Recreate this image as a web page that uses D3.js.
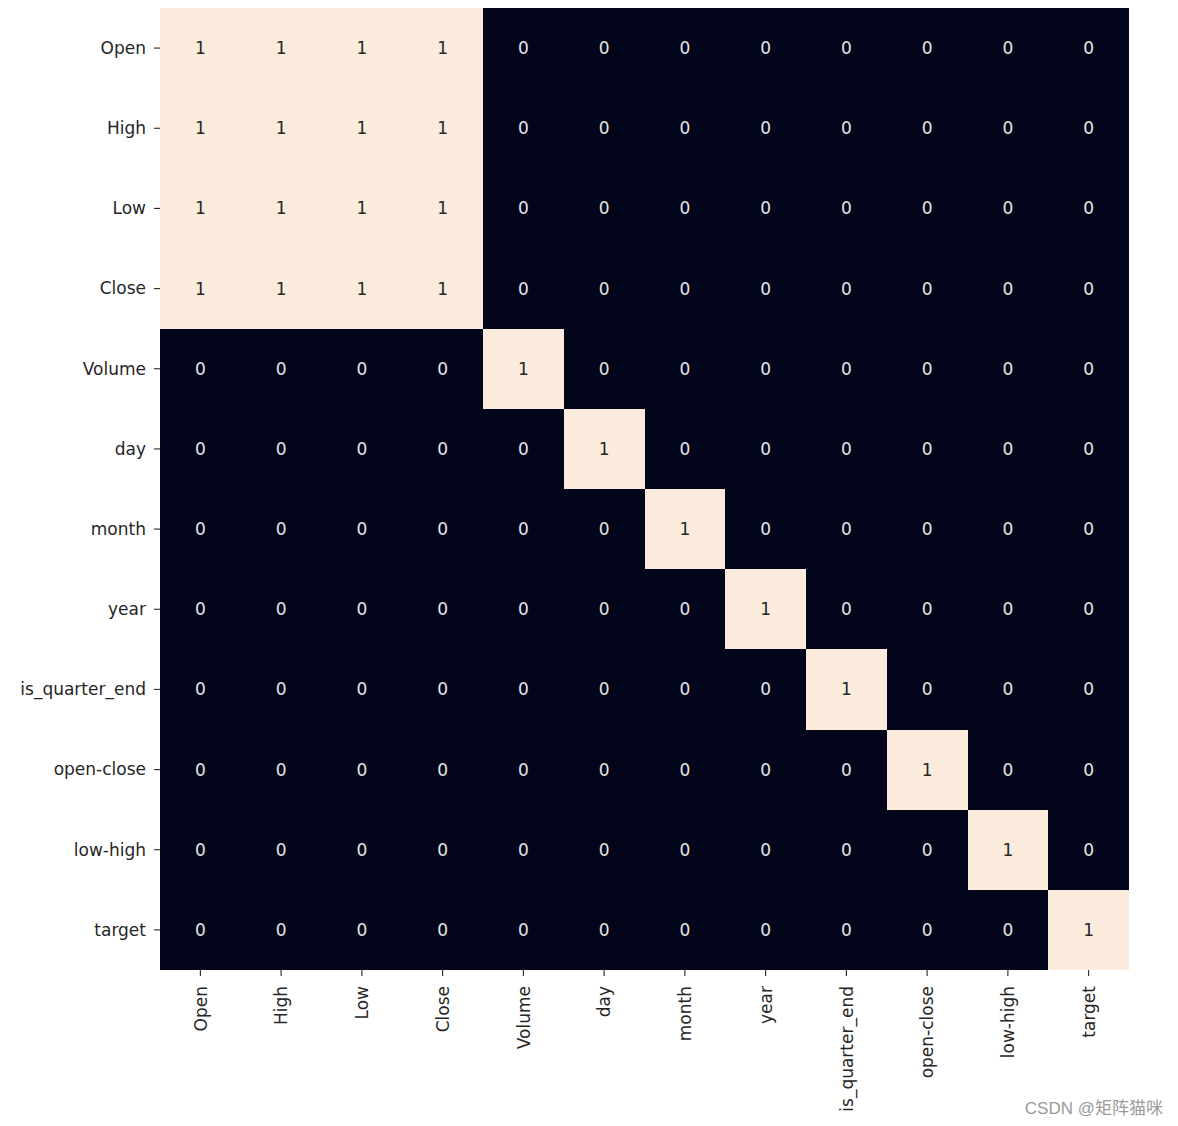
<!DOCTYPE html>
<html><head><meta charset="utf-8">
<script src="https://cdn.jsdelivr.net/npm/d3@7"></script>
<style>body{margin:0;background:#fff;} svg{display:block;}</style>
</head><body>
<script>
const labels = ["Open","High","Low","Close","Volume","day","month","year","is_quarter_end","open-close","low-high","target"];
const matrix = [
 [1,1,1,1,0,0,0,0,0,0,0,0],
 [1,1,1,1,0,0,0,0,0,0,0,0],
 [1,1,1,1,0,0,0,0,0,0,0,0],
 [1,1,1,1,0,0,0,0,0,0,0,0],
 [0,0,0,0,1,0,0,0,0,0,0,0],
 [0,0,0,0,0,1,0,0,0,0,0,0],
 [0,0,0,0,0,0,1,0,0,0,0,0],
 [0,0,0,0,0,0,0,1,0,0,0,0],
 [0,0,0,0,0,0,0,0,1,0,0,0],
 [0,0,0,0,0,0,0,0,0,1,0,0],
 [0,0,0,0,0,0,0,0,0,0,1,0],
 [0,0,0,0,0,0,0,0,0,0,0,1]
];
(function(){
const W=1178,H=1126;
const mL=160,mR=1129,mT=8,mB=970;
const fs=17;
const fontF="DejaVu Sans";
const svg=d3.select("body").append("svg").attr("width",W).attr("height",H);
const x=d3.scaleBand().domain(labels).range([mL,mR]);
const y=d3.scaleBand().domain(labels).range([mT,mB]);
const color=d3.scaleLinear().domain([0,1]).range(["#03051a","#faebdd"]);
const cells=[];
matrix.forEach((row,i)=>row.forEach((v,j)=>cells.push({r:labels[i],c:labels[j],v})));
svg.append("g").attr("shape-rendering","crispEdges").selectAll("rect").data(cells).join("rect")
 .attr("x",d=>x(d.c)).attr("y",d=>y(d.r))
 .attr("width",x.bandwidth()).attr("height",y.bandwidth())
 .attr("fill",d=>color(d.v));
svg.append("g").selectAll("text").data(cells).join("text")
 .attr("x",d=>x(d.c)+x.bandwidth()/2).attr("y",d=>y(d.r)+y.bandwidth()/2)
 .attr("text-anchor","middle").attr("dominant-baseline","central")
 .attr("font-family",fontF).attr("font-size",fs)
 .attr("fill",d=>d.v>0.5?"#262626":"#e6e6e6")
 .text(d=>d.v);
const ay=svg.append("g").attr("transform",`translate(${mL},0)`).call(d3.axisLeft(y).tickSize(6).tickPadding(8));
ay.select(".domain").remove();
ay.selectAll("text").attr("font-family",fontF).attr("font-size",fs).attr("fill","#262626").attr("dy","0.34em");
ay.selectAll("line").attr("stroke","#262626").attr("stroke-width",1.1);
const ax=svg.append("g").attr("transform",`translate(0,${mB})`).call(d3.axisBottom(x).tickSize(6).tickPadding(8));
ax.select(".domain").remove();
ax.selectAll("line").attr("stroke","#262626").attr("stroke-width",1.1);
ax.selectAll("text").attr("font-family",fontF).attr("font-size",fs).attr("fill","#262626")
 .attr("transform","rotate(-90)").attr("text-anchor","end").attr("dy","0.36em").attr("x",-16).attr("y",0);
svg.append("text").attr("x",1163).attr("y",1114).attr("text-anchor","end")
 .attr("font-family","Liberation Sans, Noto Sans CJK SC").attr("font-size",17).attr("fill","#9a9a9a")
 .text("CSDN @矩阵猫咪");
})();
</script>
</body></html>
